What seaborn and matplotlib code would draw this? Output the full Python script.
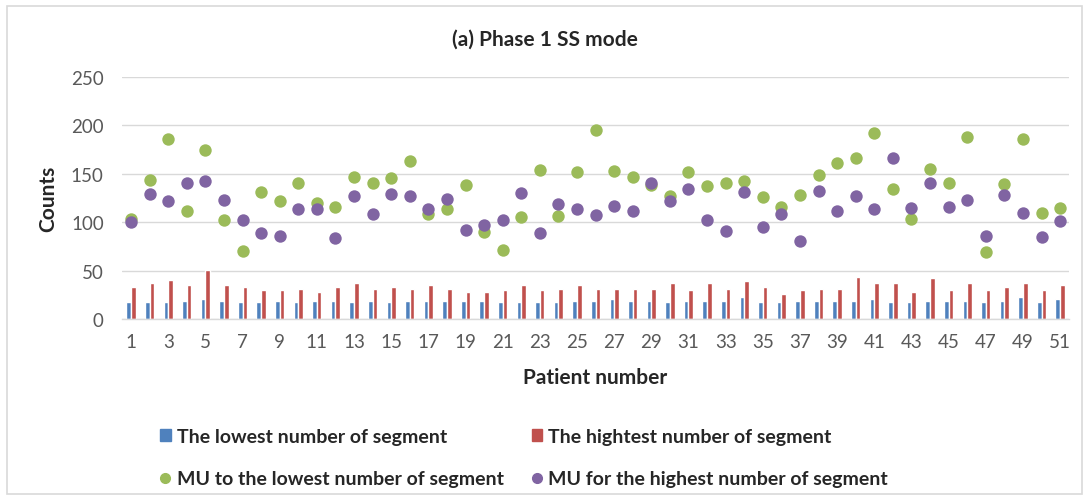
import numpy as np
import pandas as pd
import seaborn as sns
import matplotlib.pyplot as plt
from matplotlib.lines import Line2D
from matplotlib.patches import Rectangle, Patch

# --- data ---
patients = list(range(1, 52))

lowest_seg = [18, 18, 18, 19, 21, 19, 18, 18, 19, 18, 19, 19, 18, 19, 18, 19, 19,
              19, 19, 19, 18, 18, 18, 18, 19, 19, 21, 19, 19, 18, 19, 19, 19, 23,
              18, 18, 19, 19, 19, 19, 21, 18, 18, 19, 19, 19, 18, 19, 23, 18, 21]
highest_seg = [33, 37, 40, 35, 51, 35, 33, 30, 30, 31, 28, 33, 37, 31, 33, 31, 35,
               31, 28, 28, 30, 35, 30, 31, 35, 31, 31, 31, 31, 37, 30, 37, 31, 39,
               33, 26, 30, 31, 31, 43, 37, 37, 28, 42, 30, 37, 30, 33, 37, 30, 35]
mu_lowest = [103, 144, 186, 112, 175, 102, 70, 131, 122, 140, 120, 116, 147, 140,
             146, 163, 109, 114, 138, 90, 71, 105, 154, 106, 152, 195, 153, 147,
             138, 127, 152, 137, 141, 143, 126, 116, 128, 149, 161, 166, 192, 134,
             103, 155, 140, 188, 69, 139, 186, 110, 115]
mu_highest = [100, 129, 122, 140, 143, 123, 102, 89, 86, 114, 114, 84, 127, 109,
              129, 127, 114, 124, 92, 97, 102, 130, 89, 119, 114, 107, 117, 112,
              141, 122, 134, 102, 91, 131, 95, 109, 81, 132, 112, 127, 114, 166,
              115, 140, 116, 123, 86, 128, 110, 85, 101]

labels = ["The lowest number of segment", "The hightest number of segment",
          "MU to the lowest number of segment", "MU for the highest number of segment"]
colors = ["#4F81BD", "#C0504D", "#9BBB59", "#8064A2"]

sns.set_style("white")
plt.rcParams['font.family'] = ['Lato', 'DejaVu Sans']

bars = pd.DataFrame({
    "patient": patients * 2,
    "count": lowest_seg + highest_seg,
    "series": [labels[0]] * 51 + [labels[1]] * 51,
})

fig = plt.figure(figsize=(10.89, 5.02), dpi=100)
ax = fig.add_axes([0.1118, 0.3625, 0.8702, 0.4821])

sns.barplot(data=bars, x="patient", y="count", hue="series",
            palette=colors[:2], width=0.5, dodge=True, ax=ax,
            legend=False, saturation=1, errorbar=None)

# scatter on the same categorical positions (0-based)
idx = np.arange(len(patients))
sns.scatterplot(x=idx, y=mu_lowest, color=colors[2], s=80, linewidth=0, ax=ax, zorder=3)
sns.scatterplot(x=idx, y=mu_highest, color=colors[3], s=80, linewidth=0, ax=ax, zorder=4)

ax.set_xlim(-0.5, len(patients) - 0.5)
ax.set_ylim(0, 250)
ax.set_yticks([0, 50, 100, 150, 200, 250])
ax.set_xticks(idx[::2])
ax.set_xticklabels([str(p) for p in patients[::2]])
ax.tick_params(axis='both', length=0, labelsize=13.5, labelcolor="#595959")
ax.tick_params(axis='x', pad=10)
ax.tick_params(axis='y', pad=13)

ax.grid(axis='y', color="#D9D9D9", linewidth=1)
ax.set_axisbelow(True)
for side in ["top", "right", "left"]:
    ax.spines[side].set_visible(False)
ax.spines["bottom"].set_color("#D9D9D9")
ax.spines["bottom"].set_linewidth(1)

ax.set_xlabel("Patient number", fontsize=15, fontweight='bold', labelpad=12)
ax.set_ylabel("Counts", fontsize=15, fontweight='bold', labelpad=9)
fig.text(0.5, 1 - 40 / 502, "(a) Phase 1 SS mode", fontsize=15, fontweight='bold',
         ha='center', va='center')

# legend filled column by column -> order so rows read bars, then dots
handles = [
    Patch(color=colors[0]),
    Line2D([], [], marker='o', linestyle='', color=colors[2], markersize=7),
    Patch(color=colors[1]),
    Line2D([], [], marker='o', linestyle='', color=colors[3], markersize=7),
]
leg_labels = [labels[0], labels[2], labels[1], labels[3]]
fig.legend(handles, leg_labels, loc='lower left', bbox_to_anchor=(0.138, 0.008),
           ncol=2, frameon=False, prop={'size': 14, 'weight': 'bold'},
           borderpad=0, handlelength=0.55, handleheight=0.6, handletextpad=0.3,
           columnspacing=1.45, labelspacing=1.3)

# outer chart border
fig.patches.append(Rectangle((0.0065, 0.014), 0.987, 0.972, transform=fig.transFigure,
                             fill=False, edgecolor="#D9D9D9", linewidth=1.2))

fig.savefig("out.png", dpi=100)
